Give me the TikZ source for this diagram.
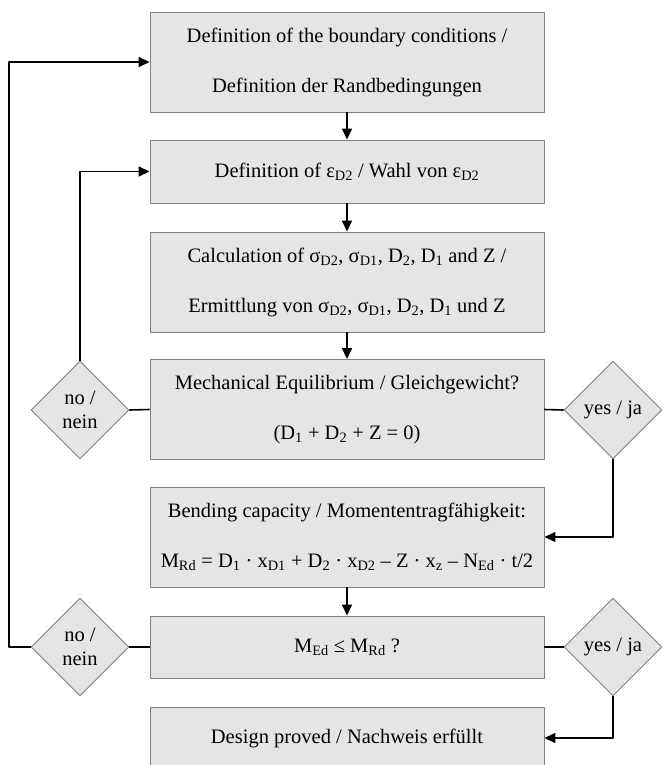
\documentclass[tikz,border=0pt]{standalone}
\usepackage{fontspec}
\setmainfont{Liberation Serif}
\usetikzlibrary{shapes.geometric,arrows.meta}
\begin{document}
\begin{tikzpicture}[x=1pt, y=-1pt, line join=round, >={Triangle[length=11pt,width=10pt]},
  procbox/.style={draw=gray, line width=0.9pt, fill=black!10, minimum width=394pt, inner sep=2pt, align=center, font=\fontsize{20.5}{50}\selectfont},
  decision/.style={diamond, draw=gray, line width=0.9pt, fill=black!10, minimum width=98pt, minimum height=98pt, inner sep=0pt, align=center, font=\fontsize{20.5}{24}\selectfont},
  flow/.style={line width=1.6pt}]
\useasboundingbox (0,0) rectangle (661,765);
% steps
\node[procbox, minimum height=100pt] (bounds) at (347,62) {Definition of the boundary conditions /\\Definition der Randbedingungen};
\node[procbox, minimum height=63pt] (strain) at (347,171.5) {Definition of ε\textsubscript{D2} / Wahl von ε\textsubscript{D2}};
\node[procbox, minimum height=100pt] (forces) at (347,282) {Calculation of σ\textsubscript{D2}, σ\textsubscript{D1}, D\textsubscript{2}, D\textsubscript{1} and Z /\\Ermittlung von σ\textsubscript{D2}, σ\textsubscript{D1}, D\textsubscript{2}, D\textsubscript{1} und Z};
\node[procbox, minimum height=100pt] (equil) at (347,409.5) {Mechanical Equilibrium / Gleichgewicht?\\(D\textsubscript{1} + D\textsubscript{2} + Z = 0)};
\node[procbox, minimum height=100pt] (moment) at (347,537) {Bending capacity / Momententragfähigkeit:\\M\textsubscript{Rd} = D\textsubscript{1} · x\textsubscript{D1} + D\textsubscript{2} · x\textsubscript{D2} – Z · x\textsubscript{z} – N\textsubscript{Ed} · t/2};
\node[procbox, minimum height=62pt] (check) at (347,647) {M\textsubscript{Ed} ≤  M\textsubscript{Rd} ?};
\node[procbox, minimum height=62pt] (proved) at (347,738) {Design proved / Nachweis erfüllt};
% decisions
\node[decision] (no1) at (80,410) {no /\\nein};
\node[decision] (yes1) at (613,410) {yes / ja};
\node[decision] (no2) at (80,647) {no /\\nein};
\node[decision] (yes2) at (613,647) {yes / ja};
\coordinate (back) at (9,647);
% connectors
\foreach \a/\b in {bounds/strain, strain/forces, forces/equil, moment/check}{
\draw[flow,->] (\a.south)--(\b.north);
}
\draw[flow] (equil.west)--(no1.east) (equil.east)--(yes1.west);
\draw[flow] (check.west)--(no2.east) (check.east)--(yes2.west);
\draw[flow,->] (no1.north) |- (strain.west);
\draw[flow,->] (yes1.south) |- (moment.east);
\draw[flow,->] (no2.west)--(back) |- (bounds.west);
\draw[flow,->] (yes2.south) |- (proved.east);
\end{tikzpicture}
\end{document}
